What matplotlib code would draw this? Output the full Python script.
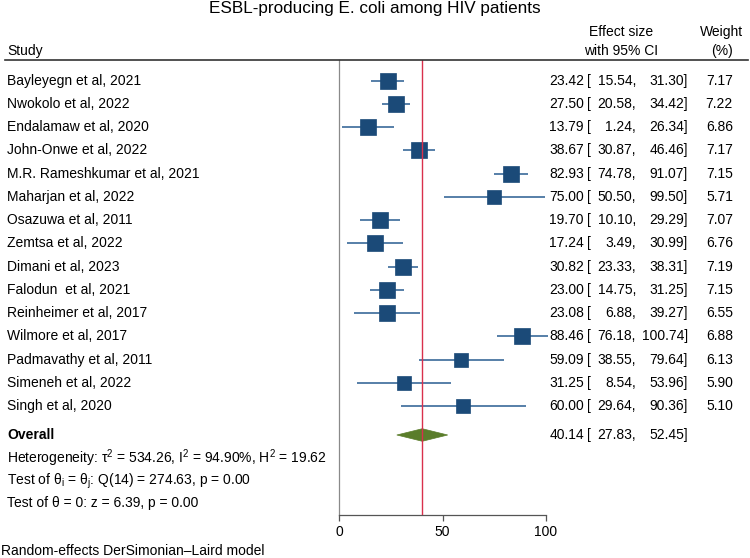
import matplotlib
matplotlib.use("Agg")
import matplotlib.pyplot as plt
import matplotlib.transforms as mtransforms
from matplotlib.patches import Polygon
import numpy as np

plt.rcParams['font.family'] = ['Liberation Sans', 'DejaVu Sans']
plt.rcParams['mathtext.fontset'] = 'custom'
plt.rcParams['mathtext.rm'] = 'Liberation Sans'
plt.rcParams['mathtext.it'] = 'Liberation Sans'

studies = ["Bayleyegn et al, 2021", "Nwokolo et al, 2022", "Endalamaw et al, 2020",
           "John-Onwe et al, 2022", "M.R. Rameshkumar et al, 2021", "Maharjan et al, 2022",
           "Osazuwa et al, 2011", "Zemtsa et al, 2022", "Dimani et al, 2023",
           "Falodun  et al, 2021", "Reinheimer et al, 2017", "Wilmore et al, 2017",
           "Padmavathy et al, 2011", "Simeneh et al, 2022", "Singh et al, 2020"]
es = [23.42, 27.50, 13.79, 38.67, 82.93, 75.00, 19.70, 17.24, 30.82, 23.00, 23.08, 88.46, 59.09, 31.25, 60.00]
lo = [15.54, 20.58, 1.24, 30.87, 74.78, 50.50, 10.10, 3.49, 23.33, 14.75, 6.88, 76.18, 38.55, 8.54, 29.64]
hi = [31.30, 34.42, 26.34, 46.46, 91.07, 99.50, 29.29, 30.99, 38.31, 31.25, 39.27, 100.74, 79.64, 53.96, 90.36]
weights = [7.17, 7.22, 6.86, 7.17, 7.15, 5.71, 7.07, 6.76, 7.19, 7.15, 6.55, 6.88, 6.13, 5.90, 5.10]
overall_es, overall_lo, overall_hi = 40.14, 27.83, 52.45
xticks = [0, 50, 100]
title = "ESBL-producing E. coli among HIV patients"
stats_lines = [r"Heterogeneity: τ$^2$ = 534.26, I$^2$ = 94.90%, H$^2$ = 19.62",
               r"Test of θ$_\mathregular{i}$ = θ$_\mathregular{j}$: Q(14) = 274.63, p = 0.00",
               "Test of θ = 0: z = 6.39, p = 0.00"]
footer = "Random-effects DerSimonian\u2013Laird model"

W, H = 750, 558
fig = plt.figure(figsize=(W / 100, H / 100), dpi=100)

# axes geometry in pixels
x0_px, x100_px = 339.3, 546.0
top_px, bot_px = 60.0, 515.0
row0_px, row_step = 80.7, 23.25

ax = fig.add_axes([x0_px / W, 1 - bot_px / H, (x100_px - x0_px) / W, (bot_px - top_px) / H])
ax.set_xlim(0, 100)
ax.set_ylim((bot_px - row0_px) / row_step, (top_px - row0_px) / row_step)
for s in ['top', 'right']:
    ax.spines[s].set_visible(False)
ax.spines['left'].set_color('#8a8a8a')
ax.spines['left'].set_linewidth(0.9)
ax.spines['bottom'].set_color('#555555')
ax.spines['bottom'].set_linewidth(0.9)
ax.set_yticks([])
ax.set_xticks(xticks)
fs = 10
ax.tick_params(axis='x', length=4, width=0.9, color='#555555', labelsize=fs, pad=3)
ax.patch.set_alpha(0)

n = len(studies)
ys = np.arange(n)
y_overall = (435 - row0_px) / row_step

line_c = '#3a6a9a'
box_c = '#1b4a78'
ax.hlines(ys, lo, hi, color=line_c, lw=1.2, clip_on=False, zorder=2)
for y, e, w in zip(ys, es, weights):
    side_px = 16.0 * np.sqrt(w / 7.22)
    ax.plot([e], [y], marker='s', ms=side_px * 0.72, mfc=box_c, mec=box_c, mew=0.5,
            clip_on=False, zorder=3)

# overall diamond
dh = 0.27
diamond = Polygon([[overall_lo, y_overall], [overall_es, y_overall - dh],
                   [overall_hi, y_overall], [overall_es, y_overall + dh]],
                  closed=True, facecolor='#5a7d2a', edgecolor='#5a7d2a', lw=0.5, zorder=3)
ax.add_patch(diamond)
ax.axvline(overall_es, color='#d9304c', lw=1.0, zorder=4)

# text columns
tr = mtransforms.blended_transform_factory(fig.transFigure, ax.transData)
left_x = 7 / W


def ci_text(y, e, l, h):
    ax.text(584 / W, y, f"{e:.2f}", transform=tr, ha='right', va='center', fontsize=fs)
    ax.text(587 / W, y, "[", transform=tr, ha='left', va='center', fontsize=fs)
    ax.text(636 / W, y, f"{l:.2f},", transform=tr, ha='right', va='center', fontsize=fs)
    ax.text(688 / W, y, f"{h:.2f}]", transform=tr, ha='right', va='center', fontsize=fs)


for y, name, e, l, h, w in zip(ys, studies, es, lo, hi, weights):
    ax.text(left_x, y, name, transform=tr, ha='left', va='center', fontsize=fs)
    ci_text(y, e, l, h)
    ax.text(733 / W, y, f"{w:.2f}", transform=tr, ha='right', va='center', fontsize=fs)

ax.text(left_x, y_overall, "Overall", transform=tr, ha='left', va='center', fontsize=fs,
        fontweight='bold')
ci_text(y_overall, overall_es, overall_lo, overall_hi)

for yp, s in zip([458.3, 481.0, 503.3], stats_lines):
    fig.text(left_x, 1 - yp / H, s, ha='left', va='center', fontsize=fs)

# header
fig.text(0.5, 1 - 9 / H, title, ha='center', va='center', fontsize=12.3)
fig.text(left_x, 1 - 51 / H, "Study", ha='left', va='center', fontsize=fs)
fig.text(621 / W, 1 - 32 / H, "Effect size", ha='center', va='center', fontsize=fs)
fig.text(621 / W, 1 - 51 / H, "with 95% CI", ha='center', va='center', fontsize=fs)
fig.text(722 / W, 1 - 32 / H, "Weight", ha='center', va='center', fontsize=fs)
fig.text(722 / W, 1 - 51 / H, "(%)", ha='center', va='center', fontsize=fs)
fig.add_artist(plt.Line2D([5 / W, 748 / W], [1 - 60 / H, 1 - 60 / H], color='#333333', lw=1.2,
                          transform=fig.transFigure))

fig.text(1 / W, 1 - 551 / H, footer, ha='left', va='center', fontsize=fs)

fig.savefig("out.png", dpi=100)
